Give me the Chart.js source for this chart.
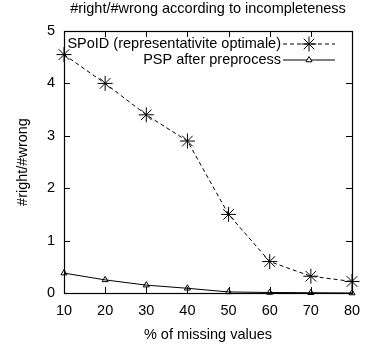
<!DOCTYPE html>
<html><head><meta charset="utf-8">
<script src="https://cdn.jsdelivr.net/npm/chart.js@4/dist/chart.umd.min.js"></script>
<style>html,body{margin:0;padding:0;background:#fff}</style>
</head><body>
<canvas id="c" width="370" height="347"></canvas>
<script>
const missingPct = [10, 20, 30, 40, 50, 60, 70, 80];
const spoidValues = [4.55, 4.0, 3.4, 2.9, 1.5, 0.6, 0.32, 0.22];
const pspValues = [0.38, 0.25, 0.15, 0.09, 0.02, 0.01, 0.005, 0.0];
const yTicks = [0, 1, 2, 3, 4, 5];
const seriesNames = ['SPoID (representativite optimale)', 'PSP after preprocess'];
const chartTitle = '#right/#wrong according to incompleteness';
const xTitle = '% of missing values';
const yTitle = '#right/#wrong';

const FONT = '"Liberation Sans", Arial, Helvetica, sans-serif';
const FS = 14.5;

const framePlugin = {
  id: 'frame',
  beforeDatasetsDraw(chart) {
    const {ctx, chartArea: a, scales: {x, y}} = chart;
    ctx.save();
    ctx.strokeStyle = '#000';
    ctx.lineWidth = 1;
    ctx.beginPath();
    const tl = 6;
    missingPct.forEach(v => {
      const px = Math.round(x.getPixelForValue(v)) + 0.5;
      ctx.moveTo(px, a.bottom); ctx.lineTo(px, a.bottom - tl);
      ctx.moveTo(px, a.top); ctx.lineTo(px, a.top + tl);
    });
    yTicks.forEach(v => {
      const py = Math.round(y.getPixelForValue(v)) + 0.5;
      ctx.moveTo(a.left, py); ctx.lineTo(a.left + tl, py);
      ctx.moveTo(a.right, py); ctx.lineTo(a.right - tl, py);
    });
    ctx.stroke();
    ctx.lineWidth = 1.2;
    ctx.strokeRect(Math.round(a.left) + 0.5, Math.round(a.top) + 0.5,
                   Math.round(a.right - a.left), Math.round(a.bottom - a.top));
    ctx.restore();
  },
  afterDatasetsDraw(chart) {
    const {ctx, chartArea: a} = chart;
    ctx.save();
    ctx.font = FS + 'px ' + FONT;
    ctx.textAlign = 'right';
    ctx.textBaseline = 'middle';
    const textRight = a.right - 71;
    const x1 = a.right - 69, x2 = a.right - 17;
    chart.data.datasets.forEach((ds, i) => {
      const yy = a.top + 13 + i * 16;
      ctx.fillStyle = '#000';
      ctx.fillText(ds.label, textRight, yy);
      ctx.strokeStyle = ds.borderColor;
      ctx.lineWidth = ds.borderWidth;
      ctx.setLineDash(ds.borderDash || []);
      ctx.beginPath();
      ctx.moveTo(x1, yy); ctx.lineTo(x2, yy);
      ctx.stroke();
      ctx.setLineDash([]);
      ctx.fillStyle = '#fff';
      ctx.lineWidth = ds.pointBorderWidth || 1;
      Chart.helpers.drawPoint(ctx, {
        pointStyle: ds.pointStyle, radius: ds.pointRadius, rotation: 0,
        borderWidth: ds.pointBorderWidth || 1
      }, (x1 + x2) / 2, yy);
    });
    ctx.restore();
  }
};

new Chart(document.getElementById('c'), {
  type: 'line',
  data: {
    datasets: [
      {
        label: seriesNames[0],
        data: missingPct.map((m, i) => ({x: m, y: spoidValues[i]})),
        borderColor: '#000', borderWidth: 1, borderDash: [4, 3],
        pointStyle: 'star', pointRadius: 7.5, pointBorderColor: '#000',
        pointBorderWidth: 1, pointBackgroundColor: 'rgba(0,0,0,0)',
        fill: false, tension: 0, clip: false
      },
      {
        label: seriesNames[1],
        data: missingPct.map((m, i) => ({x: m, y: pspValues[i]})),
        borderColor: '#000', borderWidth: 1,
        pointStyle: 'triangle', pointRadius: 3.5, pointBorderColor: '#000',
        pointBorderWidth: 1, pointBackgroundColor: 'rgba(0,0,0,0)',
        fill: false, tension: 0, clip: false
      }
    ]
  },
  options: {
    responsive: false,
    animation: false,
    devicePixelRatio: 1,
    layout: {padding: {left: 0, right: 18, top: 0, bottom: 0}},
    plugins: {
      legend: {display: false},
      tooltip: {enabled: false},
      title: {
        display: true, fullSize: false, text: chartTitle, color: '#000',
        font: {family: FONT, size: FS, weight: 'normal', lineHeight: 1.2},
        padding: {top: 0, bottom: 13.6}
      }
    },
    scales: {
      x: {
        type: 'linear', min: 10, max: 80,
        grid: {display: false, drawTicks: false},
        border: {display: false},
        ticks: {stepSize: 10, color: '#000', padding: 9, font: {family: FONT, size: FS}},
        title: {display: true, text: xTitle, color: '#000', padding: {top: 0, bottom: 3},
                font: {family: FONT, size: FS}},
        afterFit(s) { s.height = 54; }
      },
      y: {
        type: 'linear', min: 0, max: 5,
        grid: {display: false, drawTicks: false},
        border: {display: false},
        ticks: {stepSize: 1, color: '#000', padding: 9, font: {family: FONT, size: FS}},
        title: {display: true, text: yTitle, color: '#000', padding: {top: 14, bottom: 0},
                font: {family: FONT, size: FS}},
        afterFit(s) { s.width = 64; }
      }
    }
  },
  plugins: [framePlugin]
});
</script>
</body></html>
